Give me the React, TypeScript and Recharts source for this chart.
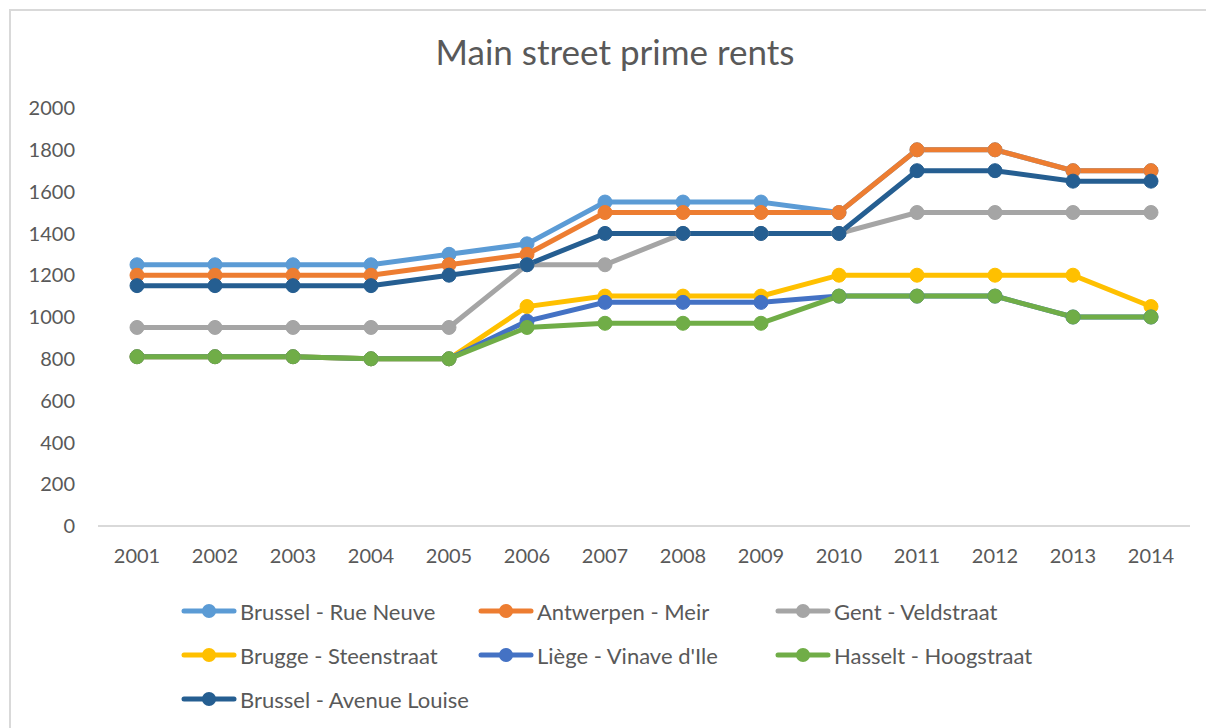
import React from 'react';
import { LineChart, Line, XAxis, YAxis, Legend } from 'recharts';

const years = ['2001', '2002', '2003', '2004', '2005', '2006', '2007', '2008', '2009', '2010', '2011', '2012', '2013', '2014'];

const brusselRueNeuve = [1250, 1250, 1250, 1250, 1300, 1350, 1550, 1550, 1550, 1500, 1800, 1800, 1700, 1700];
const antwerpenMeir = [1200, 1200, 1200, 1200, 1250, 1300, 1500, 1500, 1500, 1500, 1800, 1800, 1700, 1700];
const gentVeldstraat = [950, 950, 950, 950, 950, 1250, 1250, 1400, 1400, 1400, 1500, 1500, 1500, 1500];
const bruggeSteenstraat = [810, 810, 810, 800, 800, 1050, 1100, 1100, 1100, 1200, 1200, 1200, 1200, 1050];
const liegeVinave = [810, 810, 810, 800, 800, 980, 1070, 1070, 1070, 1100, 1100, 1100, 1000, 1000];
const hasseltHoogstraat = [810, 810, 810, 800, 800, 950, 970, 970, 970, 1100, 1100, 1100, 1000, 1000];
const brusselLouise = [1150, 1150, 1150, 1150, 1200, 1250, 1400, 1400, 1400, 1400, 1700, 1700, 1650, 1650];

const yTicks = [0, 200, 400, 600, 800, 1000, 1200, 1400, 1600, 1800, 2000];

const series = [
  { key: 'rueNeuve', name: 'Brussel - Rue Neuve', color: '#5B9BD5', values: brusselRueNeuve },
  { key: 'meir', name: 'Antwerpen - Meir', color: '#ED7D31', values: antwerpenMeir },
  { key: 'veldstraat', name: 'Gent - Veldstraat', color: '#A5A5A5', values: gentVeldstraat },
  { key: 'steenstraat', name: 'Brugge - Steenstraat', color: '#FFC000', values: bruggeSteenstraat },
  { key: 'vinave', name: "Liège - Vinave d'Ile", color: '#4472C4', values: liegeVinave },
  { key: 'hoogstraat', name: 'Hasselt - Hoogstraat', color: '#70AD47', values: hasseltHoogstraat },
  { key: 'louise', name: 'Brussel - Avenue Louise', color: '#255E91', values: brusselLouise },
];

const chartData = years.map((year, i) => {
  const row: any = { year };
  series.forEach((s) => {
    row[s.key] = s.values[i];
  });
  return row;
});

const FONT = "Lato, 'Open Sans', sans-serif";
const TEXT = '#595959';

// legend keeps the series order (recharts sorts its payload by name)
const LegendContent = () => (
  <div style={{ display: 'flex', flexWrap: 'wrap', paddingLeft: 181, width: 1206, height: 132, boxSizing: 'border-box' }}>
    {series.map((s) => (
      <div key={s.key} style={{ width: 297, height: 44, display: 'flex', alignItems: 'center' }}>
        <svg width={56} height={20} style={{ marginRight: 3 }}>
          <line x1={3} y1={10} x2={53} y2={10} stroke={s.color} strokeWidth={5} strokeLinecap="round" />
          <circle cx={28} cy={10} r={7} fill={s.color} />
        </svg>
        <span style={{ fontFamily: FONT, fontSize: 22, color: TEXT }}>{s.name}</span>
      </div>
    ))}
  </div>
);

export default function App() {
  return (
    <div style={{ position: 'absolute', left: 0, top: 0, width: 1206, height: 728, overflow: 'hidden', background: '#fff' }}>
      <div
        style={{
          position: 'absolute',
          left: 9,
          top: 9,
          width: 1300,
          height: 800,
          borderLeft: '2px solid #d9d9d9',
          borderTop: '2px solid #d9d9d9',
        }}
      />
      <div
        style={{
          position: 'absolute',
          left: 0,
          width: 1230,
          top: 30,
          textAlign: 'center',
          fontFamily: FONT,
          fontSize: 35,
          color: TEXT,
        }}
      >
        Main street prime rents
      </div>
      <div style={{ position: 'absolute', left: 0, top: 0 }}>
        <LineChart width={1206} height={728} data={chartData} margin={{ top: 108, right: 16, left: 38, bottom: 30 }}>
          <XAxis
            dataKey="year"
            height={40}
            padding={{ left: 39, right: 39 }}
            axisLine={{ stroke: '#d9d9d9', strokeWidth: 2 }}
            tickLine={false}
            tickSize={0}
            tickMargin={23}
            tick={{ fill: TEXT, fontSize: 20, fontFamily: FONT }}
          />
          <YAxis
            domain={[0, 2000]}
            ticks={yTicks}
            width={60}
            axisLine={false}
            tickLine={false}
            tickSize={0}
            tickMargin={23}
            tick={{ fill: TEXT, fontSize: 20, fontFamily: FONT }}
          />
          <Legend verticalAlign="bottom" content={<LegendContent />} wrapperStyle={{ top: 589, left: 0, width: 1206 }} />
          {series.map((s) => (
            <Line
              key={s.key}
              dataKey={s.key}
              name={s.name}
              stroke={s.color}
              strokeWidth={5}
              dot={{ r: 7, fill: s.color, stroke: s.color, strokeWidth: 1 }}
              activeDot={false}
              isAnimationActive={false}
            />
          ))}
        </LineChart>
      </div>
    </div>
  );
}
